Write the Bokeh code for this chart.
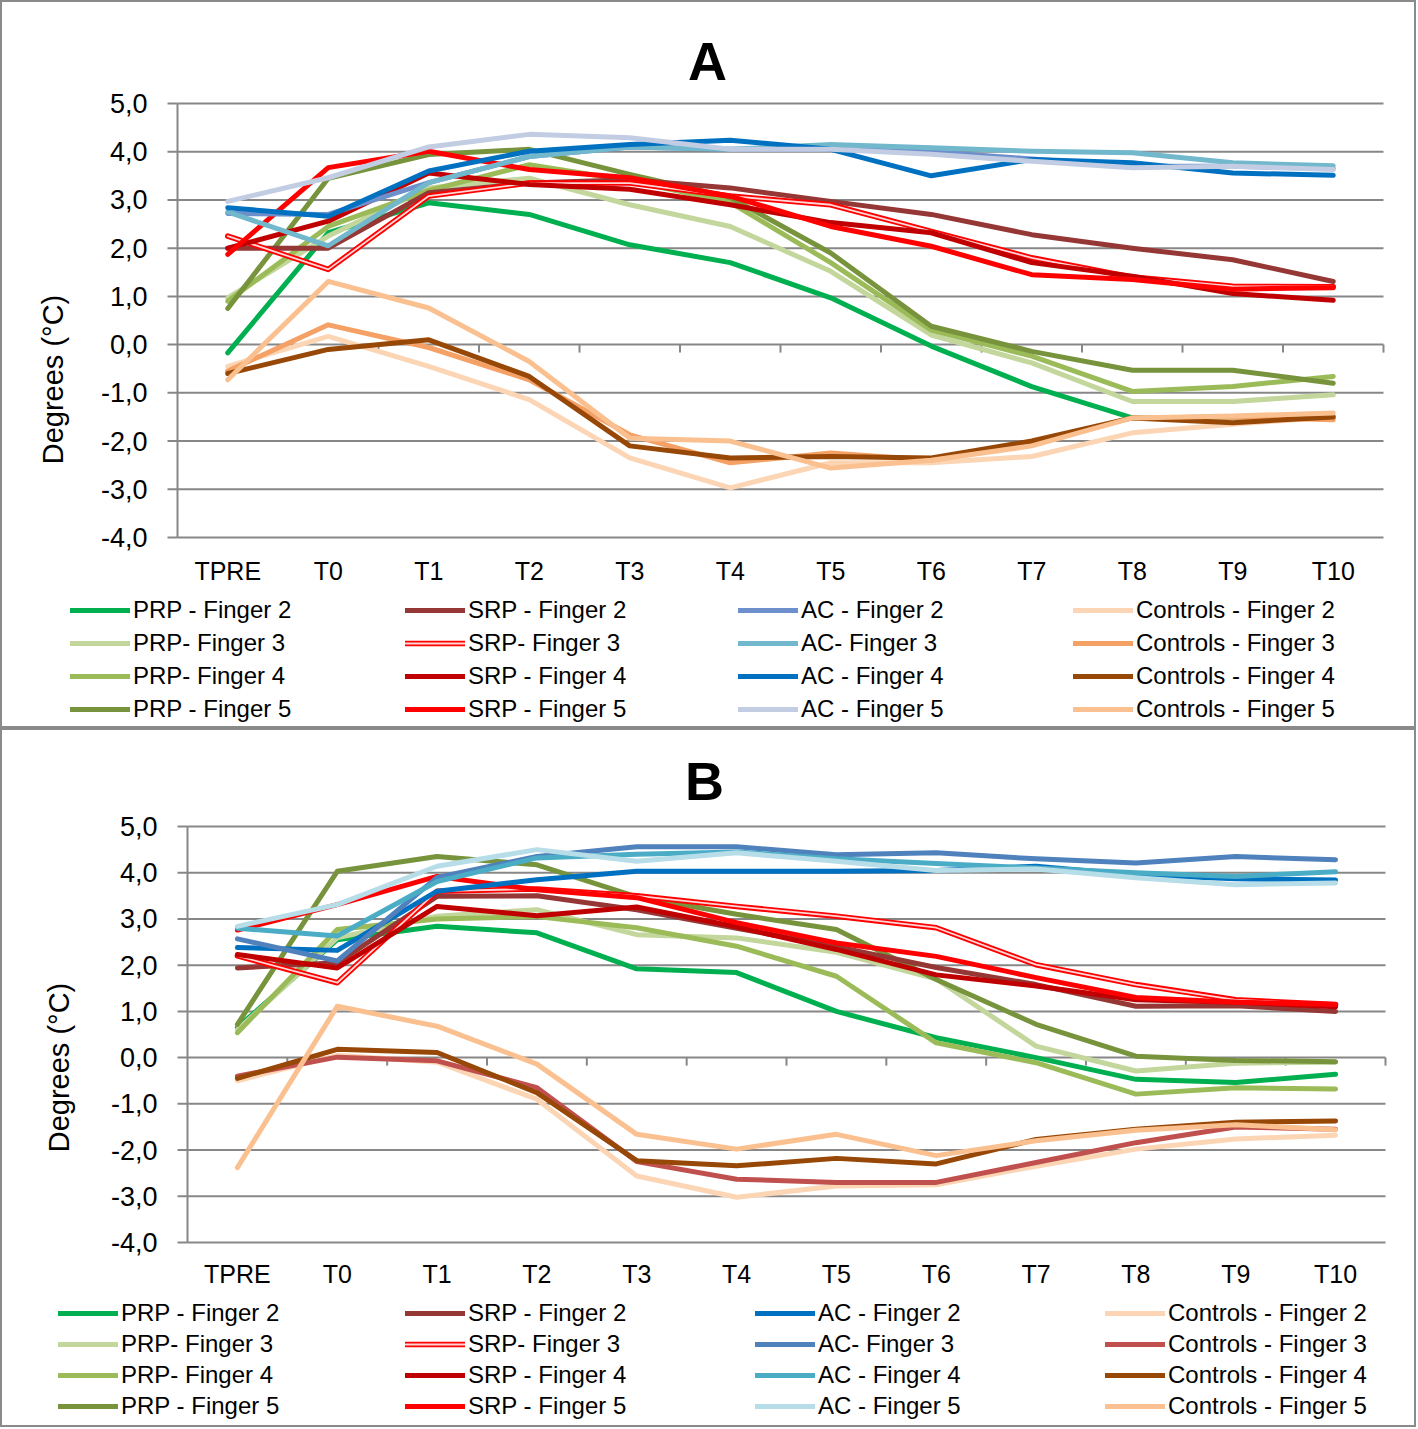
import math
from bokeh.plotting import figure
from bokeh.models import Range1d, Legend, LegendItem
from bokeh.core.properties import value
from bokeh.layouts import column
from bokeh.embed import file_html
from bokeh.resources import INLINE

timepoints = ["TPRE", "T0", "T1", "T2", "T3", "T4", "T5", "T6", "T7", "T8", "T9", "T10"]
y_ticks = [-4, -3, -2, -1, 0, 1, 2, 3, 4, 5]
y_tick_labels = ["-4,0", "-3,0", "-2,0", "-1,0", "0,0", "1,0", "2,0", "3,0", "4,0", "5,0"]
y_title = "Degrees (°C)"

labels = ["PRP - Finger 2", "PRP- Finger 3", "PRP- Finger 4", "PRP - Finger 5",
          "SRP - Finger 2", "SRP- Finger 3", "SRP - Finger 4", "SRP - Finger 5",
          "AC - Finger 2", "AC- Finger 3", "AC - Finger 4", "AC - Finger 5",
          "Controls - Finger 2", "Controls - Finger 3", "Controls - Finger 4", "Controls - Finger 5"]

# ---- Panel A ----
prp2_a = [-0.17, 2.32, 2.94, 2.70, 2.07, 1.70, 0.97, -0.03, -0.87, -1.52, -1.50, -1.50]
prp3_a = [0.97, 2.25, 3.25, 3.45, 2.90, 2.45, 1.52, 0.20, -0.38, -1.18, -1.18, -1.04]
prp4_a = [0.90, 2.45, 3.20, 3.73, 3.40, 2.95, 1.70, 0.30, -0.24, -0.97, -0.87, -0.66]
prp5_a = [0.75, 3.45, 3.94, 4.05, 3.53, 3.05, 1.90, 0.38, -0.14, -0.53, -0.53, -0.80]
srp2_a = [2.00, 2.00, 3.15, 3.35, 3.42, 3.25, 2.97, 2.70, 2.28, 2.00, 1.76, 1.31]
srp3_a = [2.25, 1.56, 3.08, 3.35, 3.35, 3.08, 2.90, 2.35, 1.80, 1.40, 1.21, 1.20]
srp4_a = [2.00, 2.56, 3.56, 3.32, 3.22, 2.90, 2.53, 2.32, 1.70, 1.42, 1.06, 0.92]
srp5_a = [1.87, 3.67, 4.01, 3.63, 3.46, 3.08, 2.45, 2.04, 1.45, 1.35, 1.15, 1.18]
ac2_a = [2.72, 2.70, 3.36, 3.90, 4.10, 4.05, 4.05, 4.00, 3.85, 3.70, 3.70, 3.65]
ac3_a = [2.75, 2.05, 3.36, 3.90, 4.10, 4.05, 4.15, 4.08, 4.01, 3.98, 3.77, 3.71]
ac4_a = [2.84, 2.66, 3.60, 4.01, 4.15, 4.24, 4.05, 3.50, 3.84, 3.77, 3.56, 3.51]
ac5_a = [2.97, 3.46, 4.10, 4.36, 4.29, 4.05, 4.05, 3.95, 3.80, 3.67, 3.70, 3.63]
ctl2_a = [-0.45, 0.17, -0.45, -1.14, -2.35, -2.97, -2.45, -2.45, -2.32, -1.83, -1.65, -1.50]
ctl3_a = [-0.55, 0.41, -0.06, -0.73, -1.87, -2.45, -2.25, -2.40, -2.05, -1.52, -1.50, -1.56]
ctl4_a = [-0.60, -0.10, 0.10, -0.66, -2.10, -2.35, -2.32, -2.35, -2.00, -1.52, -1.62, -1.50]
ctl5_a = [-0.73, 1.31, 0.76, -0.35, -1.94, -2.00, -2.56, -2.40, -2.10, -1.52, -1.48, -1.42]

# ---- Panel B ----
prp2_b = [0.65, 2.55, 2.84, 2.70, 1.92, 1.84, 1.00, 0.43, 0.00, -0.47, -0.54, -0.36]
prp3_b = [0.60, 2.59, 3.06, 3.20, 2.66, 2.59, 2.28, 1.70, 0.25, -0.29, -0.12, -0.10]
prp4_b = [0.54, 2.77, 3.00, 3.05, 2.81, 2.41, 1.76, 0.32, -0.11, -0.79, -0.65, -0.68]
prp5_b = [0.72, 4.03, 4.35, 4.17, 3.48, 3.10, 2.77, 1.69, 0.72, 0.03, -0.06, -0.09]
srp2_b = [1.94, 2.05, 3.49, 3.50, 3.20, 2.80, 2.40, 1.95, 1.58, 1.11, 1.12, 1.00]
srp3_b = [2.20, 1.62, 3.60, 3.65, 3.50, 3.27, 3.06, 2.81, 2.01, 1.58, 1.25, 1.15]
srp4_b = [2.23, 1.94, 3.27, 3.07, 3.26, 2.83, 2.34, 1.79, 1.55, 1.25, 1.20, 1.10]
srp5_b = [2.76, 3.31, 3.92, 3.63, 3.46, 2.92, 2.48, 2.19, 1.73, 1.30, 1.20, 1.15]
ac2_b = [2.38, 2.32, 3.60, 3.85, 4.03, 4.03, 4.03, 4.05, 4.14, 3.95, 3.87, 3.84]
ac3_b = [2.57, 2.09, 3.90, 4.35, 4.56, 4.56, 4.39, 4.43, 4.30, 4.21, 4.35, 4.28]
ac4_b = [2.80, 2.63, 3.81, 4.32, 4.40, 4.45, 4.30, 4.20, 4.10, 4.00, 3.92, 4.02]
ac5_b = [2.84, 3.31, 4.14, 4.50, 4.25, 4.43, 4.25, 4.05, 4.08, 3.89, 3.74, 3.78]
ctl2_b = [-0.50, 0.05, -0.10, -0.90, -2.56, -3.02, -2.78, -2.75, -2.35, -1.98, -1.76, -1.68]
ctl3_b = [-0.40, 0.01, -0.07, -0.65, -2.25, -2.63, -2.70, -2.70, -2.27, -1.84, -1.50, -1.55]
ctl4_b = [-0.45, 0.18, 0.11, -0.76, -2.23, -2.34, -2.18, -2.30, -1.77, -1.55, -1.40, -1.37]
ctl5_b = [-2.38, 1.11, 0.68, -0.14, -1.66, -1.98, -1.66, -2.12, -1.80, -1.57, -1.45, -1.56]

series_a = [prp2_a, prp3_a, prp4_a, prp5_a, srp2_a, srp3_a, srp4_a, srp5_a,
            ac2_a, ac3_a, ac4_a, ac5_a, ctl2_a, ctl3_a, ctl4_a, ctl5_a]
series_b = [prp2_b, prp3_b, prp4_b, prp5_b, srp2_b, srp3_b, srp4_b, srp5_b,
            ac2_b, ac3_b, ac4_b, ac5_b, ctl2_b, ctl3_b, ctl4_b, ctl5_b]

colors_a = ["#00b050", "#c3d69b", "#9bbb59", "#77933c",
            "#953735", "#ff0000", "#c00000", "#ff0000",
            "#6d8fcb", "#72b8cd", "#0070c0", "#c2cde3",
            "#fcd5b5", "#f5a065", "#974706", "#fac090"]
colors_b = ["#00b050", "#c3d69b", "#9bbb59", "#77933c",
            "#953735", "#ff0000", "#c00000", "#ff0000",
            "#0070c0", "#4f81bd", "#4bacc6", "#b7dde8",
            "#fcd5b5", "#c0504d", "#974706", "#fac090"]

FONT = value("Liberation Sans")
GRID = "#878787"
WIDTH = 1416
x_pos = list(range(len(timepoints)))


def make_panel(title, series, colors, height, left, right, top, bottom, title_dx,
               title_dy, ylab_dx, ylab_dy, xlab_dy, cols_x, legend_y, row_h):
    # pixel layout -> data ranges (frame covers the whole canvas)
    band = (right - left) / len(timepoints)
    unit = (bottom - top) / (max(y_ticks) - min(y_ticks))
    x0 = -0.5 - left / band
    y1 = max(y_ticks) + top / unit
    p = figure(width=WIDTH, height=height, output_backend="svg", toolbar_location=None,
               x_axis_location=None, y_axis_location=None, min_border=0,
               x_range=Range1d(x0, x0 + WIDTH / band),
               y_range=Range1d(y1 - height / unit, y1),
               styles={"border": "2px solid #8a8a8a"})
    p.outline_line_color = None
    p.grid.visible = False

    xl, xr = -0.5, len(timepoints) - 0.5
    ytop, ybot = max(y_ticks), min(y_ticks)

    # gridlines
    p.segment(x0=[xl] * len(y_ticks), x1=[xr] * len(y_ticks), y0=y_ticks, y1=y_ticks,
              line_color=GRID, line_width=2)
    # value axis line and its ticks
    p.segment(x0=[xl], x1=[xl], y0=[ybot], y1=[ytop], line_color=GRID, line_width=2)
    p.segment(x0=[xl] * len(y_ticks), x1=[xl - 10 / band] * len(y_ticks), y0=y_ticks,
              y1=y_ticks, line_color=GRID, line_width=2)
    p.text(x=[xl] * len(y_ticks), y=y_ticks, text=y_tick_labels, x_offset=-30,
           text_align="right", text_baseline="middle", text_font=FONT,
           text_font_size="27px", text_color="black")
    # category axis at zero with ticks between categories
    bounds = [i + 0.5 for i in x_pos]
    p.segment(x0=bounds, x1=bounds, y0=[0] * len(bounds), y1=[-8 / unit] * len(bounds),
              line_color=GRID, line_width=2)
    p.text(x=x_pos, y=[ybot] * len(x_pos), text=timepoints, y_offset=xlab_dy,
           text_align="center", text_baseline="middle", text_font=FONT,
           text_font_size="25px", text_color="black")
    # axis title and panel title
    p.text(x=[xl], y=[ytop], text=[y_title], x_offset=ylab_dx, y_offset=ylab_dy,
           angle=math.pi / 2, text_align="center", text_baseline="middle",
           text_font=FONT, text_font_size="29px", text_color="black")
    p.text(x=[(xl + xr) / 2], y=[ytop], text=[title], x_offset=title_dx, y_offset=title_dy,
           text_align="center", text_baseline="middle", text_font=FONT,
           text_font_size="54px", text_font_style="bold", text_color="black")

    # data series
    items = []
    for i, (vals, col) in enumerate(zip(series, colors)):
        rs = [p.line(x_pos, vals, line_color=col, line_width=5,
                     line_join="round", line_cap="round")]
        if i == 5:  # SRP- Finger 3: red outline with pale core
            rs[0].glyph.line_width = 5.5
            rs.append(p.line(x_pos, vals, line_color="#ffd6d6", line_width=1.8,
                             line_join="round", line_cap="round"))
        items.append(LegendItem(label=labels[i], renderers=rs))

    for c in range(4):
        lg = Legend(items=items[c * 4:(c + 1) * 4], location=(cols_x[c], legend_y),
                    orientation="vertical", border_line_color=None,
                    background_fill_alpha=0, padding=0, margin=0, spacing=3,
                    glyph_width=60, glyph_height=row_h, label_height=row_h,
                    label_standoff=3, label_text_font="Liberation Sans",
                    label_text_font_size="24px", label_text_color="black")
        p.add_layout(lg)
    return p


pA = make_panel("A", series_a, colors_a, height=728, left=175, right=1381, top=101,
                bottom=535, title_dx=-73, title_dy=-43, ylab_dx=-125, ylab_dy=276,
                xlab_dy=33, cols_x=[68, 403, 736, 1071], legend_y=6, row_h=30)
pB = make_panel("B", series_b, colors_b, height=699, left=185, right=1383, top=96,
                bottom=512, title_dx=-82, title_dy=-46, ylab_dx=-129, ylab_dy=241,
                xlab_dy=31, cols_x=[56, 403, 753, 1103], legend_y=9, row_h=28)

layout = column(pA, pB)
open("out.html", "w").write(file_html(layout, INLINE))
